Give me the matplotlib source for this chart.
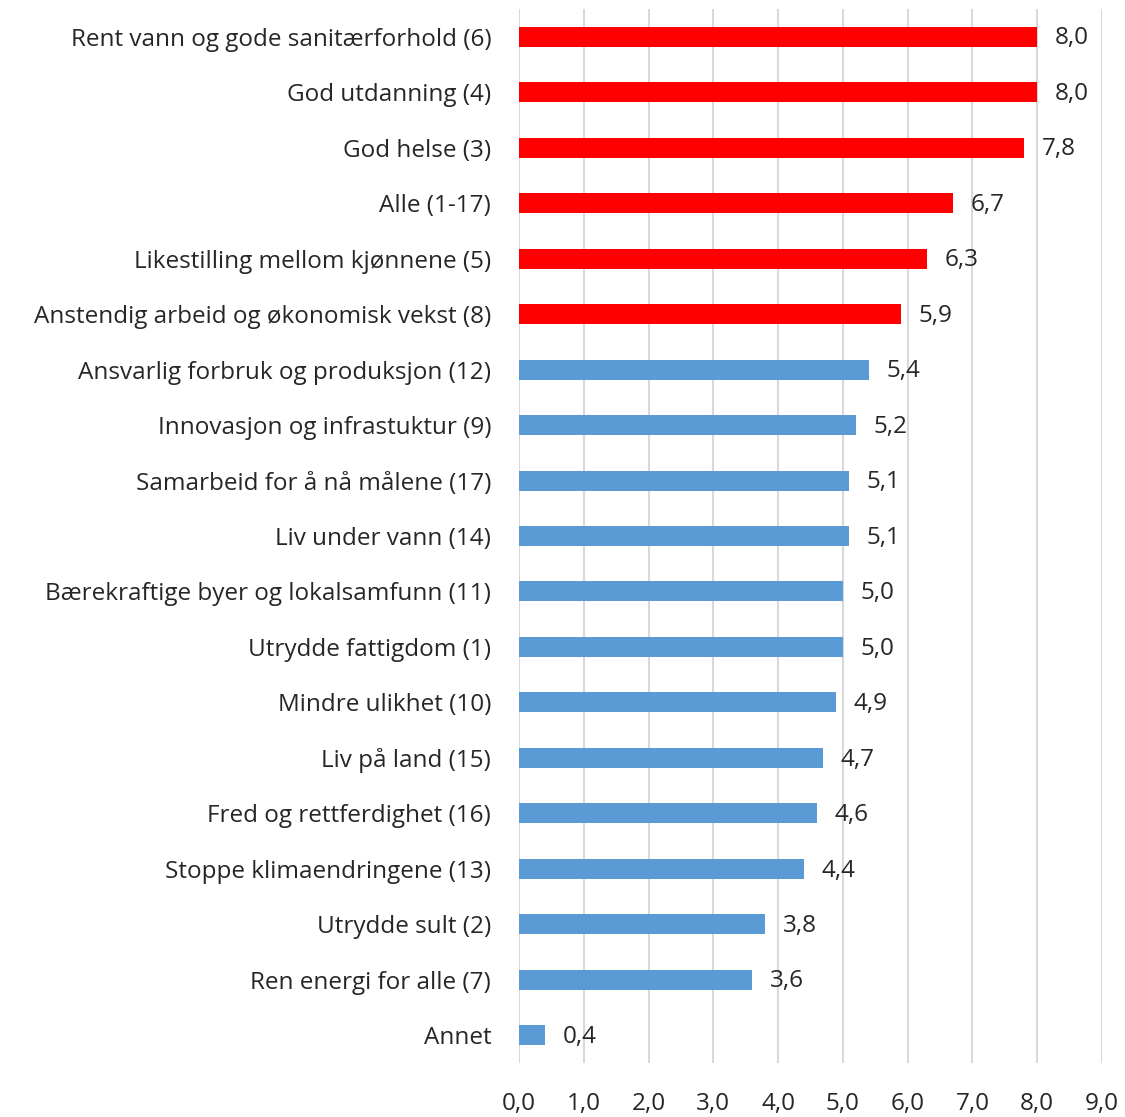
import matplotlib.pyplot as plt

# Kategorier og verdier (fra topp til bunn)
categories = [
    "Rent vann og gode sanitærforhold (6)",
    "God utdanning (4)",
    "God helse (3)",
    "Alle (1-17)",
    "Likestilling mellom kjønnene (5)",
    "Anstendig arbeid og økonomisk vekst (8)",
    "Ansvarlig forbruk og produksjon (12)",
    "Innovasjon og infrastuktur (9)",
    "Samarbeid for å nå målene (17)",
    "Liv under vann (14)",
    "Bærekraftige byer og lokalsamfunn (11)",
    "Utrydde fattigdom (1)",
    "Mindre ulikhet (10)",
    "Liv på land (15)",
    "Fred og rettferdighet (16)",
    "Stoppe klimaendringene (13)",
    "Utrydde sult (2)",
    "Ren energi for alle (7)",
    "Annet",
]
values = [8.0, 8.0, 7.8, 6.7, 6.3, 5.9, 5.4, 5.2, 5.1, 5.1, 5.0, 5.0, 4.9, 4.7, 4.6, 4.4, 3.8, 3.6, 0.4]
n_red = 6
xticks = [0, 1, 2, 3, 4, 5, 6, 7, 8, 9]

plt.rcParams['font.family'] = ['Open Sans', 'DejaVu Sans']
fs = 17.5

fig = plt.figure(figsize=(11.25, 11.17), dpi=100)
ax = fig.add_axes([519 / 1125, 1 - 1063 / 1117, (1102 - 519) / 1125, (1063 - 9) / 1117])

colors = ['#FF0000' if i < n_red else '#5B9BD5' for i in range(len(values))]
y = list(range(len(values)))
ax.barh(y, values, height=0.36, color=colors, zorder=3)

for yi, v in zip(y, values):
    ax.text(v + 0.27, yi + 0.03, f"{v:.1f}".replace('.', ','), va='center', ha='left',
            fontsize=fs, color='#262626')

ax.set_xlim(0, 9)
ax.set_ylim(len(values) - 0.5, -0.5)
ax.set_yticks(y)
ax.set_yticklabels(categories, fontsize=fs, color='#262626')
ax.set_xticks(xticks)
ax.set_xticklabels([f"{t:.1f}".replace('.', ',') for t in xticks], fontsize=fs, color='#262626')
ax.tick_params(axis='both', length=0)
ax.tick_params(axis='y', pad=20)
ax.tick_params(axis='x', pad=21)
ax.grid(axis='x', color='#D9D9D9', linewidth=1.5, zorder=0)
for s in ax.spines.values():
    s.set_visible(False)

fig.savefig('out.png')
